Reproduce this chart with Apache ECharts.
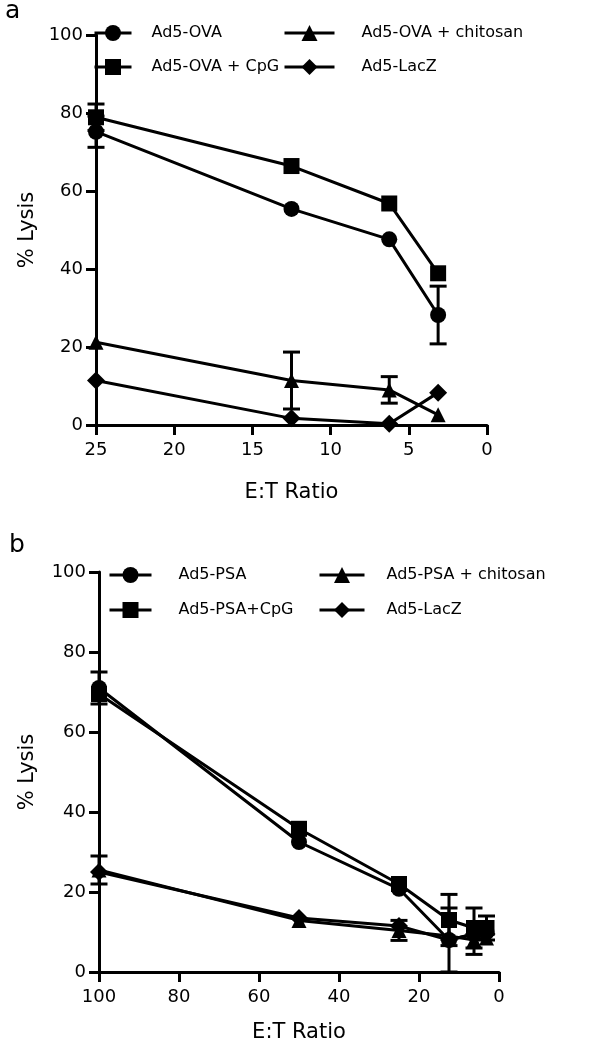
<!DOCTYPE html>
<html>
<head>
<meta charset="utf-8">
<script src="https://cdn.jsdelivr.net/npm/echarts@6/dist/echarts.min.js"></script>
<style>html,body{margin:0;padding:0;background:#fff;}#c{width:594px;height:1050px;}</style>
</head>
<body>
<div id="c"></div>
<script>
// Panel a data
const xA = [25, 12.5, 6.25, 3.125];
const ovaY = [75.2, 55.4, 47.6, 28.2];
const ovaErr = [4, 0, 0, 7.4];
const ovaCpgY = [78.9, 66.4, 56.8, 38.9];
const ovaCpgErr = [3.4, 0, 0, 0];
const ovaChiY = [21.2, 11.4, 9.0, 2.6];
const ovaChiErr = [0, 7.3, 3.4, 0];
const lacZaY = [11.4, 1.7, 0.3, 8.3];
const lacZaErr = [0, 0, 0, 0];

// Panel b data
const xB = [100, 50, 25, 12.5, 6.25, 3.125];
const psaY = [71, 32.5, 20.8, 8, 9.5, 10];
const psaErr = [4, 0, 0, 8, 0, 0];
const psaCpgY = [69.5, 35.8, 22, 13, 11, 11];
const psaCpgErr = [0, 0, 0, 6.4, 5, 3];
const psaChiY = [25.5, 12.9, 10.4, 9, 8, 8.5];
const psaChiErr = [3.5, 0, 2.5, 0, 3.6, 0];
const lacZbY = [25, 13.5, 11.5, 8, 9.5, 9.5];
const lacZbErr = [0, 0, 0, 0, 0, 0];

const yTicks = [0, 20, 40, 60, 80, 100];

const FONT = 'DejaVu Sans';
const chart = echarts.init(document.getElementById('c'), null, {renderer: 'canvas'});

function pts(xs, ys) { return xs.map((x, i) => [x, ys[i]]); }
function errPts(xs, ys, es) { return xs.map((x, i) => [x, ys[i], es[i]]).filter(d => d[2] > 0); }

function lineSeries(name, xs, ys, symbol, size, idx) {
  return {
    type: 'line', name: name, xAxisIndex: idx, yAxisIndex: idx,
    data: pts(xs, ys), symbol: symbol, symbolSize: size, showAllSymbol: true,
    lineStyle: {color: '#000', width: 3}, itemStyle: {color: '#000'},
    emphasis: {disabled: true}, z: 3
  };
}
function errSeries(xs, ys, es, idx) {
  return {
    type: 'custom', name: 'err' + idx, xAxisIndex: idx, yAxisIndex: idx,
    data: errPts(xs, ys, es), z: 2, silent: true,
    renderItem: function (params, api) {
      const x = api.value(0), y = api.value(1), e = api.value(2);
      const top = api.coord([x, y + e]);
      const bot = api.coord([x, y - e]);
      const w = 8.5;
      const st = {stroke: '#000', lineWidth: 3};
      return {type: 'group', children: [
        {type: 'line', shape: {x1: top[0], y1: top[1], x2: bot[0], y2: bot[1]}, style: st},
        {type: 'line', shape: {x1: top[0] - w, y1: top[1], x2: top[0] + w, y2: top[1]}, style: st},
        {type: 'line', shape: {x1: bot[0] - w, y1: bot[1], x2: bot[0] + w, y2: bot[1]}, style: st}
      ]};
    }
  };
}

const axisCommon = {
  axisLine: {show: true, onZero: false, lineStyle: {color: '#000', width: 3}},
  axisTick: {show: true, length: 10, lineStyle: {color: '#000', width: 3}},
  splitLine: {show: false},
  nameTextStyle: {color: '#000', fontFamily: FONT, fontSize: 21},
};
function xAx(idx, max, interval, gap) {
  return Object.assign({}, axisCommon, {
    type: 'value', gridIndex: idx, min: 0, max: max, interval: interval, inverse: true,
    name: 'E:T Ratio', nameLocation: 'middle', nameGap: gap,
    axisLabel: {color: '#000', fontFamily: FONT, fontSize: 18, margin: 16}
  });
}
function yAx(idx, gap) {
  return Object.assign({}, axisCommon, {
    type: 'value', gridIndex: idx, min: 0, max: 100, interval: 20,
    name: '% Lysis', nameLocation: 'middle', nameGap: gap, nameRotate: 90,
    axisLabel: {color: '#000', fontFamily: FONT, fontSize: 18, margin: 13,
      formatter: v => yTicks.includes(v) ? String(v) : ''}
  });
}
function leg(names, left, top, iw, pad, gap) {
  return {
    data: names, orient: 'vertical', left: left, top: top,
    itemWidth: iw, itemHeight: 20, itemGap: gap, padding: 0,
    lineStyle: {width: 3, color: '#000'},
    textStyle: {color: '#000', fontFamily: FONT, fontSize: 16, lineHeight: 20, padding: [0, 0, 0, pad]},
    selectedMode: false
  };
}

const option = {
  animation: false,
  backgroundColor: '#fff',
  title: [
    {text: 'a', left: 0, top: -6, textStyle: {fontFamily: FONT, fontSize: 25, fontWeight: 'normal', color: '#000'}},
    {text: 'b', left: 4, top: 528, textStyle: {fontFamily: FONT, fontSize: 25, fontWeight: 'normal', color: '#000'}}
  ],
  grid: [
    {left: 96, right: 107, top: 35, height: 390},
    {left: 99, right: 95, top: 572, height: 400}
  ],
  legend: [
    leg(['Ad5-OVA', 'Ad5-OVA + CpG'], 93, 23, 37, 15, 14),
    leg(['Ad5-OVA + chitosan', 'Ad5-LacZ'], 283, 23, 50, 22, 14),
    leg(['Ad5-PSA', 'Ad5-PSA+CpG'], 108, 565, 42, 22, 15),
    leg(['Ad5-PSA + chitosan', 'Ad5-LacZ'], 318, 565, 45, 17, 15)
  ],
  xAxis: [xAx(0, 25, 5, 57), xAx(1, 100, 20, 50)],
  yAxis: [yAx(0, 58), yAx(1, 61)],
  series: [
    errSeries(xA, ovaY, ovaErr, 0),
    errSeries(xA, ovaCpgY, ovaCpgErr, 0),
    errSeries(xA, ovaChiY, ovaChiErr, 0),
    errSeries(xA, lacZaY, lacZaErr, 0),
    lineSeries('Ad5-OVA', xA, ovaY, 'circle', 16, 0),
    lineSeries('Ad5-OVA + CpG', xA, ovaCpgY, 'rect', 16, 0),
    lineSeries('Ad5-OVA + chitosan', xA, ovaChiY, 'triangle', 15, 0),
    lineSeries('Ad5-LacZ', xA, lacZaY, 'diamond', 18, 0),
    errSeries(xB, psaY, psaErr, 1),
    errSeries(xB, psaCpgY, psaCpgErr, 1),
    errSeries(xB, psaChiY, psaChiErr, 1),
    errSeries(xB, lacZbY, lacZbErr, 1),
    lineSeries('Ad5-PSA', xB, psaY, 'circle', 16, 1),
    lineSeries('Ad5-PSA+CpG', xB, psaCpgY, 'rect', 16, 1),
    lineSeries('Ad5-PSA + chitosan', xB, psaChiY, 'triangle', 15, 1),
    lineSeries('Ad5-LacZ', xB, lacZbY, 'diamond', 18, 1)
  ]
};
chart.setOption(option);
</script>
</body>
</html>
